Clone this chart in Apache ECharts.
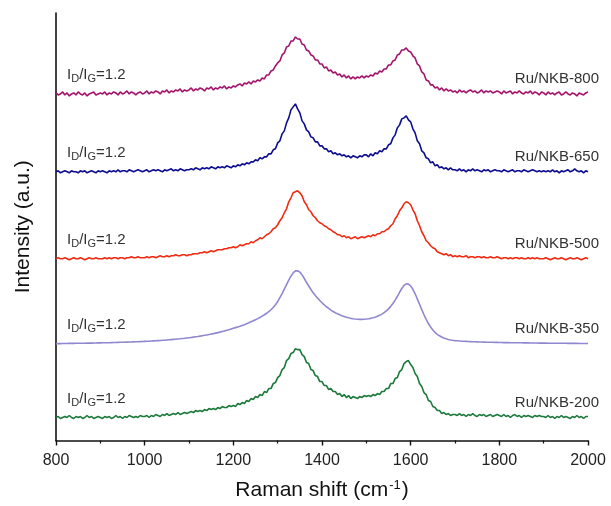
<!DOCTYPE html>
<html>
<head>
<meta charset="utf-8">
<script src="https://cdn.jsdelivr.net/npm/echarts@6/dist/echarts.min.js"></script>
<style>
  html, body { margin: 0; padding: 0; background: #fff; }
  #chart { width: 611px; height: 506px; }
</style>
</head>
<body>
<div id="chart"></div>
<script>
// Raman spectra of Ru/NKB catalysts, 800–2000 cm-1, sampled every 5 cm-1.
// Each spectrum is stored relative to its own baseline; the stacking
// offsets are kept separately.
const shiftStart = 800;
const shiftStep = 5;
const shift = Array.from({ length: 241 }, (_, i) => shiftStart + shiftStep * i);

const sampleNames = ['Ru/NKB-800', 'Ru/NKB-650', 'Ru/NKB-500', 'Ru/NKB-350', 'Ru/NKB-200'];
const ratioLabel = ['1.2', '1.2', '1.2', '1.2', '1.2'];
const offsets = [347, 269, 182, 97, 23];
const colors = ['#A3146B', '#0D0D8F', '#F02A10', '#8F87CF', '#1B7A3A'];

const ruNKB800 = [
  1,-1,0,2,-1,1,-2,0,1,-1,2,0,-1,1,-2,0,1,2,-1,0,
  1,0,2,-1,1,0,2,1,-1,2,0,1,3,0,2,1,-1,1,2,0,
  1,3,0,2,1,3,2,0,3,2,4,1,3,2,4,3,5,2,4,3,
  4,6,3,5,4,6,5,3,6,5,7,4,6,5,7,6,8,5,7,6,
  8,7,9,10,8,11,10,12,10,13,12,14,13,16,15,19,19,23,24,28,
  31,33,39,41,47,48,53,53,57,55,55,50,49,44,43,39,38,34,34,30,
  30,26,27,23,24,21,22,19,20,17,19,16,18,15,17,15,17,16,18,16,
  18,17,19,18,21,20,23,22,25,25,29,29,33,34,39,40,44,44,46,43,
  42,38,36,30,28,22,20,14,13,9,9,6,7,4,6,3,5,3,4,2,
  3,1,4,2,3,1,3,4,2,3,1,2,4,1,3,2,3,1,2,3,
  2,0,3,1,2,3,0,2,1,3,1,0,2,1,3,0,2,1,-1,2,
  1,-1,2,0,1,-1,1,2,-1,0,2,0,-1,1,0,-2,1,0,-1,1,
  2
];

const ruNKB650 = [
  0,1,-1,0,1,0,-1,1,0,0,-1,1,0,1,-1,0,1,0,-1,1,
  0,1,0,-1,1,0,1,0,2,0,1,1,0,2,1,0,1,2,1,0,
  1,2,0,1,2,1,2,1,0,2,1,2,3,1,2,1,3,2,1,2,
  2,3,2,4,3,2,4,3,4,3,5,4,3,5,4,5,4,6,5,4,
  6,5,7,6,8,7,9,8,10,10,12,11,14,13,15,15,18,18,22,23,
  29,31,38,41,49,54,62,65,68,63,59,51,48,42,40,35,34,30,30,26,
  26,23,23,20,21,18,19,17,18,16,17,15,16,14,16,15,14,16,15,17,
  17,15,18,16,19,18,21,20,23,23,27,28,34,37,44,47,53,54,56,52,
  50,43,39,31,28,21,19,14,13,9,10,6,7,4,5,3,4,2,4,2,
  2,1,3,1,2,0,2,1,3,1,2,1,0,2,1,2,0,1,2,1,
  1,0,2,1,0,1,2,0,1,1,0,2,1,0,1,2,1,0,1,0,
  1,0,1,0,2,0,1,-1,1,0,1,2,0,1,3,1,0,1,-1,1,
  0
];

const ruNKB500 = [
  0,1,0,0,1,0,-1,0,1,0,0,1,0,-1,0,1,0,0,1,0,
  0,0,1,0,1,0,1,1,0,1,1,0,1,1,2,1,1,2,1,1,
  1,2,1,2,2,1,2,3,2,2,3,2,3,3,4,3,3,4,4,3,
  4,4,5,5,5,6,6,7,6,7,8,7,8,9,9,9,10,10,11,11,
  12,11,12,14,13,14,15,15,17,16,18,19,21,20,22,24,25,27,30,31,
  34,38,41,46,50,57,61,66,67,68,66,63,57,54,49,47,43,41,38,36,
  35,33,32,30,29,27,26,24,24,22,23,21,22,20,21,22,20,21,22,21,
  22,23,22,24,23,25,25,27,27,29,30,33,35,40,43,48,51,55,57,56,
  54,49,45,38,33,27,23,18,16,13,11,10,7,6,5,4,5,3,4,2,
  3,2,3,2,2,3,1,2,2,1,2,2,1,2,1,1,2,1,1,2,
  1,0,1,1,0,1,0,1,1,0,1,0,0,1,0,1,0,1,0,0,
  0,1,0,-1,0,1,0,0,1,0,-1,0,1,0,0,1,0,-1,0,1,
  0
];

const ruNKB350 = [
  0,0,0,0.1,0.1,0.1,0.2,0.2,0.2,0.3,0.3,0.3,0.4,0.4,0.5,0.5,0.5,0.6,0.6,0.7,
  0.7,0.8,0.8,0.9,0.9,1.0,1.1,1.1,1.2,1.3,1.3,1.4,1.5,1.6,1.6,1.7,1.8,1.9,2.0,2.1,
  2.2,2.3,2.4,2.6,2.7,2.8,3.0,3.1,3.3,3.4,3.6,3.8,4.0,4.2,4.4,4.6,4.8,5.1,5.3,5.6,
  5.9,6.2,6.5,6.8,7.1,7.5,7.9,8.3,8.7,9.1,9.6,10.0,10.5,11.0,11.5,12.1,12.7,13.3,13.9,14.6,
  15.3,16.0,16.7,17.4,18.2,19.0,19.9,20.8,21.8,22.8,23.9,25.0,26.2,27.5,28.9,30.4,32.0,33.9,36.2,38.9,
  42.0,46.0,50.0,54.5,59.0,63.5,67.5,70.8,72.8,73.0,71.6,68.8,65.2,61.4,57.7,54.2,51.0,48.1,45.5,43.2,
  40.9,38.8,36.9,35.2,33.6,32.2,30.9,29.8,28.8,27.9,27.1,26.4,25.8,25.3,24.9,24.6,24.4,24.3,24.3,24.4,
  24.6,24.9,25.3,25.8,26.5,27.3,28.3,29.5,31.0,32.7,34.8,37.3,40.2,43.6,47.4,51.4,55.2,58.3,59.9,59.6,
  57.8,54.4,49.9,44.8,39.4,34.0,28.9,24.2,20.1,16.6,13.6,11.2,9.3,7.8,6.6,5.6,4.8,4.2,3.7,3.3,
  3.0,2.8,2.6,2.4,2.3,2.2,2.1,2.0,1.9,1.8,1.7,1.6,1.6,1.5,1.4,1.4,1.3,1.3,1.2,1.2,
  1.1,1.1,1.0,1.0,1.0,0.9,0.9,0.9,0.8,0.8,0.8,0.7,0.7,0.7,0.6,0.6,0.6,0.6,0.5,0.5,
  0.5,0.5,0.4,0.4,0.4,0.4,0.3,0.3,0.3,0.3,0.3,0.2,0.2,0.2,0.2,0.2,0.1,0.1,0.1,0.1,
  0.1
];

const ruNKB200 = [
  0,1,-1,0,1,0,2,0,-1,1,0,1,-1,0,2,0,1,-1,0,1,
  0,-1,1,0,1,-1,0,2,0,1,-1,1,0,2,1,0,1,0,2,1,
  1,2,0,2,1,3,2,1,3,2,4,2,3,4,3,5,3,4,5,4,
  5,6,5,7,6,7,6,8,7,9,8,9,8,10,9,11,10,10,12,11,
  12,11,14,13,15,14,17,16,19,18,21,20,23,22,26,25,29,29,34,35,
  40,42,48,50,57,59,64,65,69,68,68,63,61,55,54,48,47,42,41,36,
  36,32,32,28,29,26,26,23,24,21,23,20,22,19,21,20,19,21,20,22,
  21,22,21,23,22,24,23,26,26,29,29,34,34,39,40,46,48,54,56,57,
  53,50,44,41,34,31,25,23,17,16,11,10,7,7,4,5,3,4,2,3,
  3,2,4,2,3,1,3,2,4,2,1,3,2,3,1,2,3,1,2,3,
  2,1,3,1,2,0,2,3,1,2,0,2,1,2,1,0,2,1,2,1,
  1,0,2,0,1,-1,1,0,2,0,1,0,-1,1,0,2,0,1,-1,1,
  1
];

const spectra = [ruNKB800, ruNKB650, ruNKB500, ruNKB350, ruNKB200];
const xTicks = [800, 1000, 1200, 1400, 1600, 1800, 2000];

const FONT = '"Liberation Sans", Arial, sans-serif';
const chart = echarts.init(document.getElementById('chart'), null, { renderer: 'canvas' });

const series = spectra.map((vals, k) => ({
  name: sampleNames[k],
  type: 'line',
  showSymbol: false,
  symbol: 'none',
  animation: false,
  lineStyle: { color: colors[k], width: 1.6 },
  data: vals.map((v, i) => [shift[i], v + offsets[k]])
}));

chart.setOption({
  animation: false,
  backgroundColor: '#fff',
  grid: { left: 56, right: 23, top: 13, bottom: 65, containLabel: false },
  xAxis: {
    type: 'value',
    min: xTicks[0],
    max: xTicks[xTicks.length - 1],
    interval: 200,
    name: '{a|Raman shift (cm}{s|-1}{a|)}',
    nameLocation: 'middle',
    nameGap: 38,
    nameTextStyle: {
      rich: {
        a: { fontSize: 21, fontFamily: FONT, color: '#111' },
        s: { fontSize: 13, fontFamily: FONT, color: '#111', padding: [0, 1, 11, 1] }
      }
    },
    axisLine: { show: true, lineStyle: { color: '#111', width: 1.6 } },
    axisTick: { show: true, inside: false, length: 5, lineStyle: { color: '#111', width: 1.4 } },
    minorTick: { show: true, splitNumber: 2, length: 3, lineStyle: { color: '#111', width: 1.2 } },
    axisLabel: {
      fontSize: 16, fontFamily: FONT, color: '#222', margin: 12,
      formatter: (v) => String(v)
    },
    splitLine: { show: false }
  },
  yAxis: {
    type: 'value',
    min: 0,
    max: 428,
    name: 'Intensity (a.u.)',
    nameLocation: 'middle',
    nameGap: 22,
    nameTextStyle: { fontSize: 21, fontFamily: FONT, color: '#111' },
    axisLine: { show: true, lineStyle: { color: '#111', width: 1.6 } },
    axisTick: { show: false },
    axisLabel: { show: false },
    splitLine: { show: false }
  },
  series
});

// Sample annotations: I_D/I_G ratio on the left, sample name on the right,
// placed above each spectrum's baseline in data coordinates.
const graphic = [];
spectra.forEach((vals, k) => {
  const left = chart.convertToPixel({ gridIndex: 0 }, [825, offsets[k] + 19]);
  const right = chart.convertToPixel({ gridIndex: 0 }, [2000, offsets[k] + 15]);
  graphic.push({
    type: 'text',
    x: left[0],
    y: left[1],
    style: {
      text: '{a|I}{s|D}{a|/I}{s|G}{a|=' + ratioLabel[k] + '}',
      verticalAlign: 'middle',
      align: 'left',
      rich: {
        a: { fontSize: 15, fontFamily: FONT, fill: '#333' },
        s: { fontSize: 11, fontFamily: FONT, fill: '#333', padding: [8, 0, 0, 0] }
      }
    }
  });
  graphic.push({
    type: 'text',
    x: right[0] + 11,
    y: right[1],
    style: {
      text: sampleNames[k],
      align: 'right',
      verticalAlign: 'middle',
      fontSize: 15,
      fontFamily: FONT,
      fill: '#333'
    }
  });
});
chart.setOption({ graphic });
</script>
</body>
</html>
